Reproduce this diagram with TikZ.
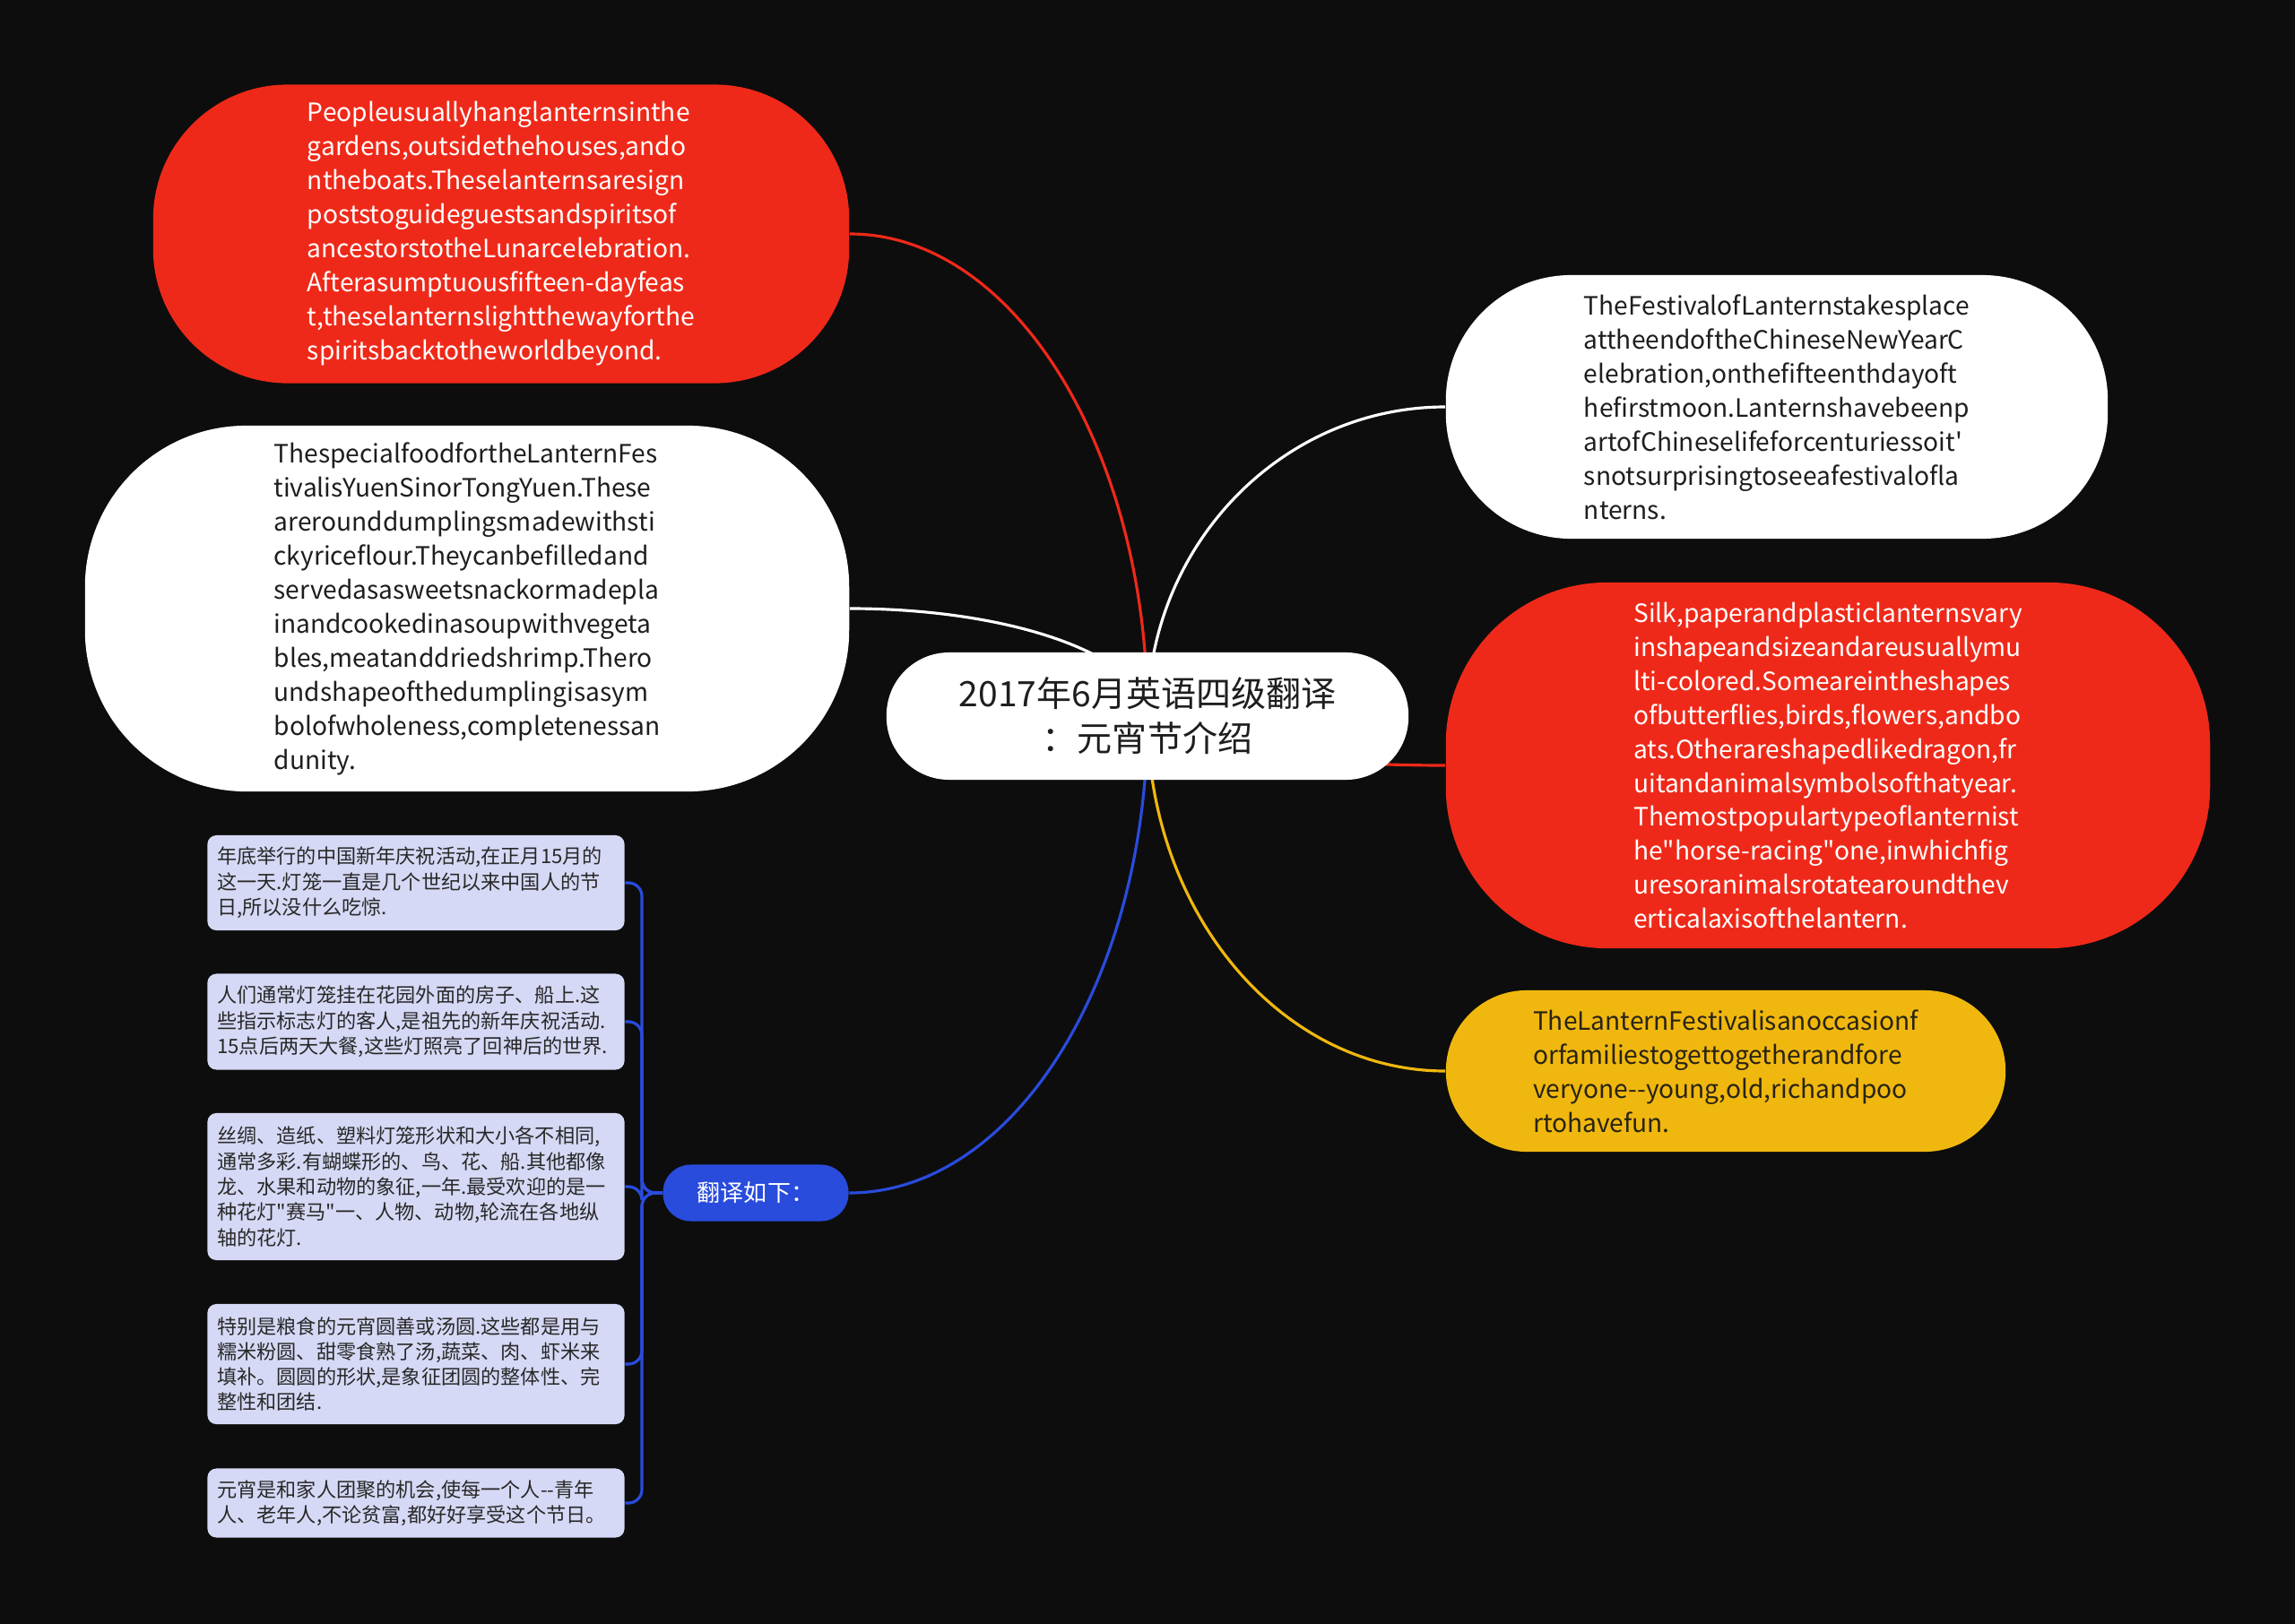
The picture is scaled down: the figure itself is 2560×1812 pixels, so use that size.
\documentclass[tikz,border=0pt]{standalone}
\usepackage{fontspec}
\setmainfont{Noto Sans CJK SC}
\usetikzlibrary{backgrounds}

\definecolor{bgdark}{RGB}{13,13,13}
\definecolor{lanternred}{RGB}{239,41,25}
\definecolor{lanterngold}{RGB}{240,184,14}
\definecolor{lanternblue}{RGB}{41,76,221}
\definecolor{notelilac}{RGB}{214,217,245}
\definecolor{inkdark}{RGB}{30,30,30}
\definecolor{inkgold}{RGB}{40,35,20}
\definecolor{inknote}{RGB}{40,40,40}

\tikzset{
  topic/.style={fill=white, text=inkdark, font=\fontsize{11.1}{14.2}\selectfont,
    rounded corners=0.7cm, minimum width=5.82cm, minimum height=1.42cm, align=center},
  idea/.style={font=\fontsize{8}{10.8}\selectfont, align=left, inner sep=0pt},
  redidea/.style={idea, fill=lanternred, text=white},
  whiteidea/.style={idea, fill=white, text=inkdark},
  goldidea/.style={idea, fill=lanterngold, text=inkgold},
  subtopic/.style={fill=lanternblue, text=white, font=\fontsize{7.4}{9}\selectfont,
    rounded corners=0.31cm, minimum width=2.07cm, minimum height=0.63cm},
  note/.style={fill=notelilac, text=inknote, font=\fontsize{6.3}{8.05}\selectfont,
    rounded corners=0.1cm, minimum width=4.65cm, text width=4.43cm, align=left, inner sep=0pt},
  link/.style={line width=0.9pt}
}

\begin{document}
\begin{tikzpicture}[x=0.01cm,y=-0.01cm]
\useasboundingbox (0,0) rectangle (2560,1812);
%
\node[topic] (root) at (1280,799) {2017年6月英语四级翻译\\：元宵节介绍};
%
\node[redidea, rounded corners=1.5cm, minimum width=7.76cm, minimum height=3.33cm] (ideaA) at (559,261)
  {Peopleusuallyhanglanternsinthe\\gardens,outsidethehouses,ando\\ntheboats.Theselanternsaresign\\poststoguideguestsandspiritsof\\ancestorstotheLunarcelebration.\\Afterasumptuousfifteen-dayfeas\\t,theselanternslightthewayforthe\\spiritsbacktotheworldbeyond.};
\node[whiteidea, rounded corners=1.8cm, minimum width=8.52cm, minimum height=4.08cm] (ideaB) at (521,679)
  {ThespecialfoodfortheLanternFes\\tivalisYuenSinorTongYuen.These\\arerounddumplingsmadewithsti\\ckyriceflour.Theycanbefilledand\\servedasasweetsnackormadepla\\inandcookedinasoupwithvegeta\\bles,meatanddriedshrimp.Thero\\undshapeofthedumplingisasym\\bolofwholeness,completenessan\\dunity.};
\node[whiteidea, rounded corners=1.4cm, minimum width=7.38cm, minimum height=2.94cm] (ideaC) at (1982,454)
  {TheFestivalofLanternstakesplace\\attheendoftheChineseNewYearC\\elebration,onthefifteenthdayoft\\hefirstmoon.Lanternshavebeenp\\artofChineselifeforcenturiessoit\textquotesingle\\snotsurprisingtoseeafestivalofla\\nterns.};
\node[redidea, rounded corners=1.8cm, minimum width=8.52cm, minimum height=4.08cm] (ideaD) at (2039,854)
  {Silk,paperandplasticlanternsvary\\inshapeandsizeandareusuallymu\\lti-colored.Someareintheshapes\\ofbutterflies,birds,flowers,andbo\\ats.Otherareshapedlikedragon,fr\\uitandanimalsymbolsofthatyear.\\Themostpopulartypeoflanternist\\he\textquotedbl horse-racing\textquotedbl one,inwhichfig\\uresoranimalsrotatearoundthev\\erticalaxisofthelantern.};
\node[goldidea, rounded corners=0.9cm, minimum width=6.24cm, minimum height=1.8cm] (ideaE) at (1925,1195)
  {TheLanternFestivalisanoccasionf\\orfamiliestogettogetherandfore\\veryone-{}-young,old,richandpoo\\rtohavefun.};
%
\node[subtopic] (trans) at (843,1331) {翻译如下：};
%
\node[note, minimum height=1.06cm] (noteA) at (464,985)
  {年底举行的中国新年庆祝活动,在正月15月的\\这一天.灯笼一直是几个世纪以来中国人的节\\日,所以没什么吃惊.};
\node[note, minimum height=1.07cm] (noteB) at (464,1140)
  {人们通常灯笼挂在花园外面的房子、船上.这\\些指示标志灯的客人,是祖先的新年庆祝活动.\\15点后两天大餐,这些灯照亮了回神后的世界.};
\node[note, minimum height=1.64cm] (noteC) at (464,1324)
  {丝绸、造纸、塑料灯笼形状和大小各不相同,\\通常多彩.有蝴蝶形的、鸟、花、船.其他都像\\龙、水果和动物的象征,一年.最受欢迎的是一\\种花灯\textquotedbl 赛马\textquotedbl 一、人物、动物,轮流在各地纵\\轴的花灯.};
\node[note, minimum height=1.34cm] (noteD) at (464,1522)
  {特别是粮食的元宵圆善或汤圆.这些都是用与\\糯米粉圆、甜零食熟了汤,蔬菜、肉、虾米来\\填补。圆圆的形状,是象征团圆的整体性、完\\整性和团结.};
\node[note, minimum height=0.77cm] (noteE) at (464,1677)
  {元宵是和家人团聚的机会,使每一个人-{}-青年\\人、老年人,不论贫富,都好好享受这个节日。};
%
\begin{scope}[on background layer]
\fill[bgdark] (0,0) rectangle (2560,1812);
\draw[link, lanternred] (root.center) .. controls (1280,502) and (1131,261) .. (ideaA.east);
\draw[link, white] (root.center) .. controls (1280,733) and (1131,679) .. (ideaB.east);
\draw[link, white] (root.center) .. controls (1280,609) and (1429,454) .. (ideaC.west);
\draw[link, lanternred] (root.center) .. controls (1280,829) and (1429,854) .. (ideaD.west);
\draw[link, lanterngold] (root.center) .. controls (1280,1018) and (1429,1195) .. (ideaE.west);
\draw[link, lanternblue] (root.center) .. controls (1280,1093) and (1131,1331) .. (trans.east);
\foreach \n/\y in {noteA/985,noteB/1140,noteC/1324,noteD/1522,noteE/1677}
  \draw[link, lanternblue, rounded corners=0.15cm] (trans.west) -- (716,1331) -- (716,\y) -- (\n.east);
\end{scope}
\end{tikzpicture}
\end{document}
